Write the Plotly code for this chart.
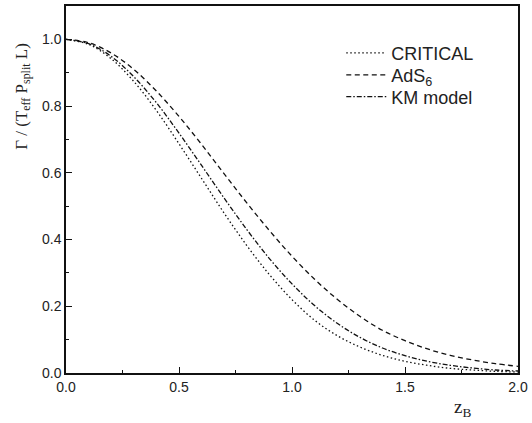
import plotly.graph_objects as go

z_b = [0.0, 0.1, 0.2, 0.3, 0.4, 0.5, 0.6, 0.7, 0.8, 0.9, 1.0,
       1.1, 1.2, 1.3, 1.4, 1.5, 1.6, 1.7, 1.8, 1.9, 2.0]

critical = [1.000, 0.985, 0.942, 0.874, 0.787, 0.687, 0.583, 0.479, 0.382, 0.295, 0.220,
            0.158, 0.112, 0.078, 0.053, 0.035, 0.023, 0.014, 0.009, 0.005, 0.003]

ads6 = [1.000, 0.990, 0.959, 0.910, 0.845, 0.769, 0.685, 0.597, 0.510, 0.427, 0.350,
        0.281, 0.221, 0.170, 0.128, 0.097, 0.072, 0.053, 0.039, 0.028, 0.020]

km_model = [1.000, 0.987, 0.949, 0.888, 0.810, 0.719, 0.622, 0.524, 0.430, 0.343, 0.267,
            0.202, 0.149, 0.107, 0.075, 0.052, 0.035, 0.023, 0.015, 0.009, 0.006]

names = ["CRITICAL", "AdS<sub>6</sub>", "KM model"]
dashes = ["1.5px,2.5px", "5px,3.5px", "5px,2px,1.5px,2px"]
legend_ids = ["legend", "legend2", "legend3"]

fig = go.Figure()
for name, ys, d, lg in zip(names, [critical, ads6, km_model], dashes, legend_ids):
    fig.add_trace(go.Scatter(x=z_b, y=ys, mode="lines", name=name, line_shape="spline",
                             legend=lg,
                             line=dict(color="#111111", width=1.3, dash=d)))

axis_common = dict(showline=True, linecolor="#111111", linewidth=1.5, mirror=True,
                   ticks="inside", ticklen=6, tickwidth=1.2, tickcolor="#111111",
                   showgrid=False, zeroline=False,
                   tickfont=dict(family="Liberation Sans, Arial", size=14, color="#222222"))

fig.update_xaxes(range=[0, 2.0], dtick=0.5, tickformat=".1f",
                 minor=dict(dtick=0.25, ticks="inside", ticklen=3, tickcolor="#111111"),
                 **axis_common)
fig.update_yaxes(range=[0, 1.1], dtick=0.2, tickformat=".1f",
                 minor=dict(dtick=0.1, ticks="inside", ticklen=3, tickcolor="#111111"),
                 **axis_common)

fig.add_annotation(text="Γ / (T<sub>eff</sub> P<sub>split</sub> L)", xref="paper", yref="paper",
                   x=-0.097, y=0.753, xanchor="center", yanchor="middle",
                   textangle=-90, showarrow=False,
                   font=dict(family="Liberation Serif, Times New Roman", size=17, color="#222222"))
fig.add_annotation(text="z<sub>B</sub>", xref="paper", yref="paper",
                   x=0.877, y=-0.096, xanchor="center", yanchor="middle", showarrow=False,
                   font=dict(family="Liberation Serif, Times New Roman", size=19, color="#222222"))

legend_style = dict(x=0.609, xanchor="left", yanchor="top", bgcolor="rgba(0,0,0,0)",
                    font=dict(family="Liberation Sans, Arial", size=18, color="#222222"),
                    itemwidth=40)

fig.update_layout(
    width=532, height=423,
    margin=dict(l=66, r=11, t=4, b=50),
    paper_bgcolor="white", plot_bgcolor="white",
    showlegend=True,
    legend=dict(y=0.922, **legend_style),
    legend2=dict(y=0.862, **legend_style),
    legend3=dict(y=0.8025, **legend_style),
)

fig.write_html("out.html", config={"displayModeBar": False},
               post_script="document.body.style.margin='0';")
